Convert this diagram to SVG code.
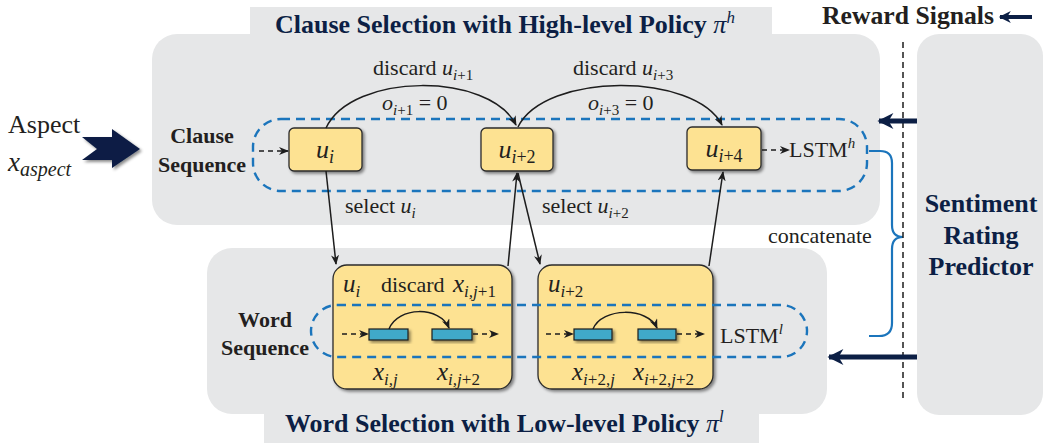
<svg xmlns="http://www.w3.org/2000/svg" width="1044" height="443" viewBox="0 0 1044 443">
<defs>
<style>
.panel{fill:#e6e7e8}
.ybox{fill:#fde292;stroke:#2b2b2b;stroke-width:1.3}
.bbox{fill:#3fa9c9;stroke:#1d1d1d;stroke-width:1.2}
.bdash{fill:none;stroke:#1b75bc;stroke-width:2.4;stroke-dasharray:9 6}
.ln{fill:none;stroke:#1d1d1d;stroke-width:1.5}
.dln{fill:none;stroke:#1d1d1d;stroke-width:1.5;stroke-dasharray:5 4}
.thick{fill:none;stroke:#0c1f45;stroke-width:5}
.t{font-family:"Liberation Serif",serif;fill:#231f20}
.lab{font-size:22px}
.mi{font-style:italic}
.bold{font-weight:bold}
.navy{fill:#0c1f45}
</style>
<filter id="sh" x="-20%" y="-20%" width="150%" height="150%">
<feDropShadow dx="2" dy="2" stdDeviation="1.5" flood-color="#000" flood-opacity="0.45"/>
</filter>
<marker id="ah" viewBox="0 0 10 8" refX="9" refY="4" markerWidth="10" markerHeight="8" markerUnits="userSpaceOnUse" orient="auto">
<path d="M0,0 L10,4 L0,8 L3,4 z" fill="#1d1d1d"/>
</marker>
<marker id="big" viewBox="0 0 10 10" refX="9" refY="5" markerWidth="18" markerHeight="16" markerUnits="userSpaceOnUse" orient="auto">
<path d="M10,5 L0,0 L3,5 L0,10 z" fill="#0c1f45"/>
</marker>
<marker id="med" viewBox="0 0 10 10" refX="9" refY="5" markerWidth="13" markerHeight="12" markerUnits="userSpaceOnUse" orient="auto">
<path d="M10,5 L0,0 L3,5 L0,10 z" fill="#0c1f45"/>
</marker>
</defs>

<!-- panels -->
<g id="high-level-panel">
<rect x="250" y="7" width="522" height="40" class="panel"/>
<rect x="152" y="34" width="728" height="191" rx="25" class="panel"/>
<text x="275" y="33" class="t bold navy" font-size="26">Clause Selection with High-level Policy <tspan class="mi" font-weight="normal">π</tspan><tspan class="mi" font-weight="normal" font-size="17" dy="-10">h</tspan></text>
</g>
<g id="low-level-panel">
<rect x="264" y="400" width="495" height="43" class="panel"/>
<rect x="207" y="248" width="620" height="166" rx="25" class="panel"/>
<text x="285" y="432" class="t bold navy" font-size="26">Word Selection with Low-level Policy <tspan class="mi" font-weight="normal">π</tspan><tspan class="mi" font-weight="normal" font-size="17" dy="-10">l</tspan></text>
</g>
<g id="predictor">
<rect x="917" y="34" width="126" height="381" rx="22" class="panel"/>
<text class="t bold navy" font-size="26" text-anchor="middle"><tspan x="981" y="212">Sentiment</tspan><tspan x="981" y="244">Rating</tspan><tspan x="981" y="275">Predictor</tspan></text>
</g>
<g id="reward">
<text x="822" y="24" class="t bold" font-size="26" textLength="172" lengthAdjust="spacingAndGlyphs">Reward Signals</text>
<line x1="1032" y1="17" x2="1000" y2="17" stroke="#0c1f45" stroke-width="4" marker-end="url(#med)"/>
</g>

<!-- aspect -->
<g id="aspect">
<text x="8" y="133" class="t" font-size="26">Aspect</text>
<text x="8" y="171" class="t mi" font-size="27">x<tspan font-size="20" dy="5">aspect</tspan></text>
<polygon points="82,137 112,137 112,129 140,149 112,168 112,160 82,160 97,149" fill="#0c1f45" filter="url(#sh)"/>
</g>

<!-- clause sequence -->
<g id="clause-seq-label">
<text class="t bold lab" text-anchor="middle"><tspan x="202" y="143">Clause</tspan><tspan x="202" y="172">Sequence</tspan></text>
</g>
<g id="clause-seq">
<rect x="253" y="119" width="614" height="72" rx="28" class="bdash"/>
</g>
<g id="u_i">
<rect x="289" y="128" width="73" height="43" rx="5" class="ybox" filter="url(#sh)"/>
<text x="325" y="158" class="t mi" font-size="26" text-anchor="middle">u<tspan font-size="18" dy="5">i</tspan></text>
</g>
<g id="u_i2">
<rect x="481" y="128" width="72" height="43" rx="5" class="ybox" filter="url(#sh)"/>
<text x="517" y="158" class="t" font-size="26" text-anchor="middle"><tspan class="mi">u</tspan><tspan font-size="18" dy="5"><tspan class="mi">i</tspan>+2</tspan></text>
</g>
<g id="u_i4">
<rect x="687" y="127" width="74" height="43" rx="5" class="ybox" filter="url(#sh)"/>
<text x="724" y="157" class="t" font-size="26" text-anchor="middle"><tspan class="mi">u</tspan><tspan font-size="18" dy="5"><tspan class="mi">i</tspan>+4</tspan></text>
</g>
<g id="lstm-h">
<text x="789" y="157" class="t lab">LSTM<tspan class="mi" font-size="15" dy="-9">h</tspan></text>
</g>

<!-- word level -->
<g id="word-seq-label">
<text class="t bold lab" text-anchor="middle"><tspan x="265" y="327">Word</tspan><tspan x="265" y="355">Sequence</tspan></text>
</g>
<g id="word-box-1">
<rect x="333" y="265" width="179" height="124" rx="14" class="ybox" filter="url(#sh)"/>
<text x="343" y="292" class="t" font-size="25"><tspan class="mi">u</tspan><tspan class="mi" font-size="17" dy="5">i</tspan></text>
<text x="381" y="292" class="t lab">discard</text>
<text x="453" y="292" class="t" font-size="25"><tspan class="mi">x</tspan><tspan font-size="17" dy="5"><tspan class="mi">i,j</tspan>+1</tspan></text>
<rect x="369" y="329" width="39" height="11" class="bbox" filter="url(#sh)"/>
<rect x="432" y="329" width="40" height="11" class="bbox" filter="url(#sh)"/>
<text x="373" y="380" class="t" font-size="25"><tspan class="mi">x</tspan><tspan class="mi" font-size="17" dy="5">i,j</tspan></text>
<text x="437" y="380" class="t" font-size="25"><tspan class="mi">x</tspan><tspan font-size="17" dy="5"><tspan class="mi">i,j</tspan>+2</tspan></text>
</g>
<g id="word-box-2">
<rect x="538" y="265" width="175" height="124" rx="14" class="ybox" filter="url(#sh)"/>
<text x="548" y="292" class="t" font-size="25"><tspan class="mi">u</tspan><tspan font-size="17" dy="5"><tspan class="mi">i</tspan>+2</tspan></text>
<rect x="574" y="329" width="38" height="11" class="bbox" filter="url(#sh)"/>
<rect x="638" y="329" width="38" height="11" class="bbox" filter="url(#sh)"/>
<text x="572" y="380" class="t" font-size="25"><tspan class="mi">x</tspan><tspan font-size="17" dy="5"><tspan class="mi">i</tspan>+2,<tspan class="mi">j</tspan></tspan></text>
<text x="633" y="380" class="t" font-size="25"><tspan class="mi">x</tspan><tspan font-size="17" dy="5"><tspan class="mi">i</tspan>+2,<tspan class="mi">j</tspan>+2</tspan></text>
</g>
<g id="word-seq">
<rect x="311" y="305" width="496" height="52" rx="26" class="bdash"/>
</g>
<g id="lstm-l">
<text x="720" y="343" class="t lab">LSTM<tspan class="mi" font-size="15" dy="-9">l</tspan></text>
</g>

<!-- connectors -->
<g id="connectors">
<path d="M326,128 C352,72 490,72 516,125" class="ln" marker-end="url(#ah)"/>
<path d="M518,127 C545,72 695,72 722,125" class="ln" marker-end="url(#ah)"/>
<line x1="326" y1="171" x2="336" y2="264" class="ln" marker-end="url(#ah)"/>
<line x1="508" y1="266" x2="517" y2="173" class="ln" marker-end="url(#ah)"/>
<line x1="518" y1="173" x2="540" y2="264" class="ln" marker-end="url(#ah)"/>
<line x1="709" y1="266" x2="723" y2="172" class="ln" marker-end="url(#ah)"/>
<line x1="259" y1="151" x2="288" y2="151" class="dln" marker-end="url(#ah)"/>
<line x1="762" y1="150" x2="789" y2="150" class="dln" marker-end="url(#ah)"/>
<line x1="342" y1="334" x2="368" y2="334" class="dln" marker-end="url(#ah)"/>
<line x1="473" y1="334" x2="498" y2="334" class="dln" marker-end="url(#ah)"/>
<line x1="546" y1="334" x2="573" y2="334" class="dln" marker-end="url(#ah)"/>
<line x1="677" y1="334" x2="704" y2="334" class="dln" marker-end="url(#ah)"/>
<path d="M389,329 C398,306 440,306 449,328" class="ln" marker-end="url(#ah)"/>
<path d="M593,329 C602,307 648,307 657,328" class="ln" marker-end="url(#ah)"/>
<path d="M869,151 L880,151 Q892,151 892,163 L892,225 Q892,237 903,237 Q892,237 892,249 L892,323 Q892,336 879,336 L869,336" fill="none" stroke="#1b75bc" stroke-width="2.2"/>
<line x1="903" y1="42" x2="903" y2="402" stroke="#1d1d1d" stroke-width="1.5" stroke-dasharray="6 4"/>
<line x1="917" y1="121" x2="879" y2="121" class="thick" marker-end="url(#big)"/>
<line x1="917" y1="357" x2="829" y2="357" class="thick" marker-end="url(#big)"/>
</g>

<!-- edge labels -->
<g id="edge-labels">
<text x="373" y="75" class="t lab">discard <tspan class="mi">u</tspan><tspan font-size="15" dy="5"><tspan class="mi">i</tspan>+1</tspan></text>
<text x="382" y="110" class="t lab"><tspan class="mi">o</tspan><tspan font-size="15" dy="5"><tspan class="mi">i</tspan>+1</tspan><tspan dy="-5"> = 0</tspan></text>
<text x="573" y="75" class="t lab">discard <tspan class="mi">u</tspan><tspan font-size="15" dy="5"><tspan class="mi">i</tspan>+3</tspan></text>
<text x="588" y="110" class="t lab"><tspan class="mi">o</tspan><tspan font-size="15" dy="5"><tspan class="mi">i</tspan>+3</tspan><tspan dy="-5"> = 0</tspan></text>
<text x="345" y="213" class="t lab">select <tspan class="mi">u</tspan><tspan class="mi" font-size="15" dy="5">i</tspan></text>
<text x="542" y="213" class="t lab">select <tspan class="mi">u</tspan><tspan font-size="15" dy="5"><tspan class="mi">i</tspan>+2</tspan></text>
<text x="768" y="243" class="t lab">concatenate</text>
</g>
</svg>
